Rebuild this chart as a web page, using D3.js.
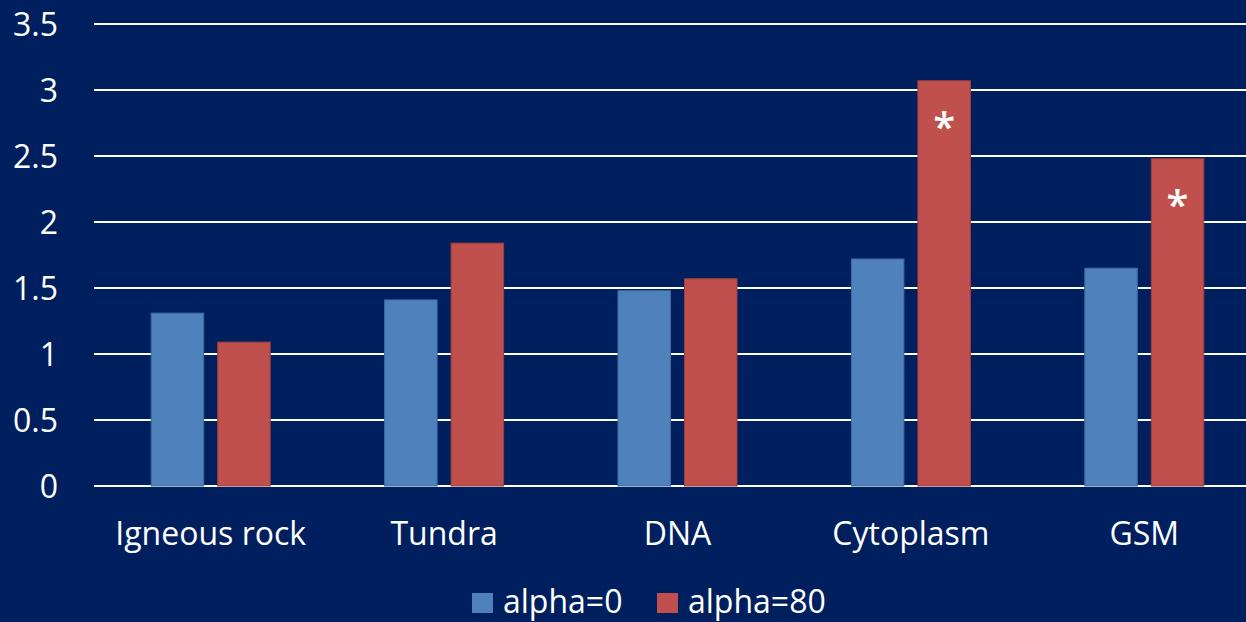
<!DOCTYPE html>
<html>
<head>
<meta charset="utf-8">
<script src="https://cdn.jsdelivr.net/npm/d3@7"></script>
<style>
  html, body { margin: 0; padding: 0; background: #001f5f; overflow: hidden; }
  svg { display: block; }
  text { font-family: "Open Sans", Lato, sans-serif; fill: #ffffff; }
</style>
</head>
<body>
<svg id="chart" width="1246" height="622"></svg>
<script>
// Chart data
const categories = ["Igneous rock", "Tundra", "DNA", "Cytoplasm", "GSM"];
const seriesNames = ["alpha=0", "alpha=80"];
const alpha0 = [1.31, 1.41, 1.48, 1.72, 1.65];
const alpha80 = [1.09, 1.84, 1.57, 3.07, 2.48];
const significant80 = [false, false, false, true, true];
const yTicks = [0, 0.5, 1, 1.5, 2, 2.5, 3, 3.5];

const colors = { "alpha=0": "#4f81bd", "alpha=80": "#c0504d" };
const strokes = { "alpha=0": "#3d6a9e", "alpha=80": "#9c3f3c" };
const FONT = "'Open Sans', Lato, sans-serif";
const LABEL_SIZE = "32px";

const svg = d3.select("#chart");
const W = 1246, H = 622;

svg.append("rect").attr("width", W).attr("height", H).attr("fill", "#001f5f");

const plot = { left: 94, right: 1261, top: 24, bottom: 486 };

const y = d3.scaleLinear().domain([0, 3.5]).range([plot.bottom, plot.top]);

const x = d3.scaleBand()
  .domain(categories)
  .range([plot.left, plot.right])
  .paddingInner(0.49)
  .paddingOuter(0.245);

const xs = d3.scaleBand()
  .domain(seriesNames)
  .range([0, x.bandwidth()])
  .paddingInner(0.21);

// Horizontal gridlines
svg.append("g")
  .selectAll("line")
  .data(yTicks)
  .join("line")
  .attr("x1", plot.left)
  .attr("x2", plot.right)
  .attr("y1", d => y(d))
  .attr("y2", d => y(d))
  .attr("stroke", "#ffffff")
  .attr("stroke-width", 1.8);

// Y axis labels
const yAxis = d3.axisLeft(y).tickValues(yTicks).tickSize(0).tickPadding(0)
  .tickFormat(d3.format("~g"));
const gy = svg.append("g").attr("transform", "translate(58,0)").call(yAxis);
gy.select(".domain").remove();
gy.selectAll("text")
  .attr("fill", "#ffffff")
  .style("font-family", FONT)
  .style("font-size", LABEL_SIZE)
  .attr("dy", "0.36em");

// Bars
const rows = categories.map((c, i) => ({
  category: c,
  values: [
    { series: "alpha=0", value: alpha0[i], sig: false },
    { series: "alpha=80", value: alpha80[i], sig: significant80[i] }
  ]
}));

const groups = svg.append("g")
  .selectAll("g")
  .data(rows)
  .join("g")
  .attr("transform", d => `translate(${x(d.category)},0)`);

groups.selectAll("rect")
  .data(d => d.values)
  .join("rect")
  .attr("x", d => xs(d.series))
  .attr("width", xs.bandwidth())
  .attr("y", d => y(d.value))
  .attr("height", d => y(0) - y(d.value))
  .attr("fill", d => colors[d.series])
  .attr("stroke", d => strokes[d.series])
  .attr("stroke-width", 1);

// Significance markers
groups.selectAll("text.sig")
  .data(d => d.values.filter(v => v.sig))
  .join("text")
  .attr("class", "sig")
  .attr("x", d => xs(d.series) + xs.bandwidth() / 2)
  .attr("y", d => y(d.value) + 60)
  .attr("text-anchor", "middle")
  .style("font-family", FONT)
  .style("font-weight", "600")
  .style("font-size", "40px")
  .text("*");

// X axis labels
const xAxis = d3.axisBottom(x).tickSize(0).tickPadding(0);
const gx = svg.append("g").attr("transform", `translate(0,${plot.bottom})`).call(xAxis);
gx.select(".domain").remove();
gx.selectAll("text")
  .attr("fill", "#ffffff")
  .attr("y", 59)
  .attr("dy", 0)
  .style("font-family", FONT)
  .style("font-size", LABEL_SIZE);

// Legend
const legend = svg.append("g");
const legendItems = [
  { name: "alpha=0", sx: 472, tx: 503 },
  { name: "alpha=80", sx: 657, tx: 688 }
];
legendItems.forEach(it => {
  legend.append("rect")
    .attr("x", it.sx).attr("y", 593)
    .attr("width", 21).attr("height", 20)
    .attr("fill", colors[it.name]);
  legend.append("text")
    .attr("x", it.tx).attr("y", 613)
    .style("font-family", FONT)
    .style("font-size", LABEL_SIZE)
    .text(it.name);
});
</script>
</body>
</html>
